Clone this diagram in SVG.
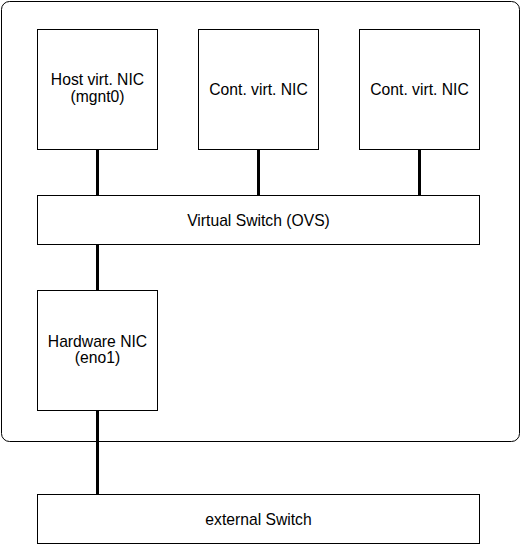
<svg xmlns="http://www.w3.org/2000/svg" width="521" height="544" viewBox="0 0 521 544">
<style>
.box{fill:#fff;stroke:#000;stroke-width:1}
.lbl{font-family:"Liberation Sans",Arial,Helvetica,sans-serif;font-size:15.7px;fill:#000;text-anchor:middle}
.con{stroke:#000;stroke-width:3;fill:none}
</style>
<rect width="521" height="544" fill="#fff"/>
<g id="host">
<rect x="1.5" y="1.5" width="518" height="440" rx="8" ry="8" class="box"/>
</g>
<g id="host-nic">
<rect x="37.5" y="29.5" width="120" height="120" class="box"/>
<text class="lbl" x="97.5" y="85.2">Host virt. NIC</text>
<text class="lbl" x="97.5" y="102">(mgnt0)</text>
</g>
<g id="cont-nic-1">
<rect x="198.5" y="29.5" width="120" height="120" class="box"/>
<text class="lbl" x="258.5" y="94.5">Cont. virt. NIC</text>
</g>
<g id="cont-nic-2">
<rect x="359.5" y="29.5" width="120" height="120" class="box"/>
<text class="lbl" x="419.5" y="94.5">Cont. virt. NIC</text>
</g>
<g id="vswitch">
<rect x="37.5" y="195.5" width="442" height="49" class="box"/>
<text class="lbl" x="258.5" y="225.7">Virtual Switch (OVS)</text>
</g>
<g id="hw-nic">
<rect x="37.5" y="290.5" width="120" height="120" class="box"/>
<text class="lbl" x="97.5" y="346.6">Hardware NIC</text>
<text class="lbl" x="97.5" y="363.3">(eno1)</text>
</g>
<g id="ext-switch">
<rect x="37.5" y="494.5" width="442" height="49" class="box"/>
<text class="lbl" x="258.5" y="524.7">external Switch</text>
</g>
<g id="connectors">
<line class="con" x1="97.5" y1="150" x2="97.5" y2="195"/>
<line class="con" x1="258.5" y1="150" x2="258.5" y2="195"/>
<line class="con" x1="419.5" y1="150" x2="419.5" y2="195"/>
<line class="con" x1="97.5" y1="245" x2="97.5" y2="290"/>
<line class="con" x1="97.5" y1="411" x2="97.5" y2="494"/>
</g>
</svg>
